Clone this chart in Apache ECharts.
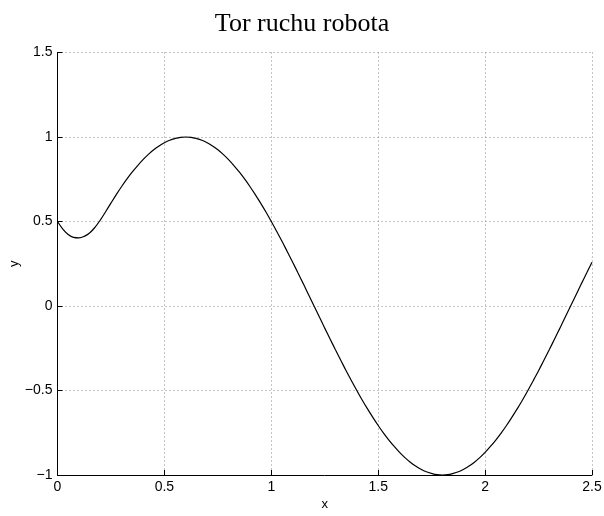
<!DOCTYPE html>
<html>
<head>
<meta charset="utf-8">
<script src="https://cdn.jsdelivr.net/npm/echarts@6/dist/echarts.min.js"></script>
<style>
  html, body { margin: 0; padding: 0; background: #fff; }
  #chart { width: 604px; height: 516px; }
</style>
</head>
<body>
<div id="chart"></div>
<script>
// Robot trajectory samples, x step 0.025
const xs = [];
for (let i = 0; i <= 100; i++) xs.push(+(i * 0.025).toFixed(3));
const ys = [
  0.5, 0.455, 0.423, 0.406, 0.403, 0.412, 0.432, 0.465, 0.508, 0.558,
  0.609, 0.659, 0.707, 0.752, 0.793, 0.831, 0.866, 0.897, 0.924, 0.947,
  0.966, 0.981, 0.991, 0.998, 1.0, 0.998, 0.991, 0.981, 0.966, 0.947,
  0.924, 0.897, 0.866, 0.831, 0.793, 0.752, 0.707, 0.659, 0.609, 0.556,
  0.5, 0.442, 0.383, 0.321, 0.259, 0.195, 0.131, 0.065, 0.0, -0.065,
  -0.131, -0.195, -0.259, -0.321, -0.383, -0.442, -0.5, -0.556, -0.609, -0.659,
  -0.707, -0.752, -0.793, -0.831, -0.866, -0.897, -0.924, -0.947, -0.966, -0.981,
  -0.991, -0.998, -1.0, -0.998, -0.991, -0.981, -0.966, -0.947, -0.924, -0.897,
  -0.866, -0.831, -0.793, -0.752, -0.707, -0.659, -0.609, -0.556, -0.5, -0.442,
  -0.383, -0.321, -0.259, -0.195, -0.131, -0.065, 0.0, 0.065, 0.131, 0.195,
  0.259
];

const titleText = 'Tor ruchu robota';
const xName = 'x';
const yName = 'y';

const points = xs.map((x, i) => [x, ys[i]]);
const fmt = v => String(v).replace('-', '\u2212');

const gridLine = { show: true, lineStyle: { color: '#8a8a8a', type: [1, 3], width: 1 } };
const labelStyle = { color: '#000', fontFamily: 'Liberation Sans', fontSize: 14, formatter: fmt };

const chart = echarts.init(document.getElementById('chart'), null, { renderer: 'canvas' });
chart.setOption({
  animation: false,
  backgroundColor: '#fff',
  title: {
    text: titleText,
    left: 'center',
    top: 6,
    textStyle: { fontFamily: 'Liberation Serif', fontWeight: 'normal', fontSize: 26, color: '#000' }
  },
  grid: { left: 57.5, right: 12, top: 52.5, bottom: 41, containLabel: false, outerBoundsMode: 'none' },
  xAxis: {
    type: 'value',
    min: 0, max: 2.5, interval: 0.5,
    name: xName,
    nameLocation: 'middle',
    nameGap: 23,
    nameMoveOverlap: false,
    nameTextStyle: { fontFamily: 'Liberation Sans', fontSize: 13, color: '#000' },
    axisLine: { show: true, onZero: false, lineStyle: { color: '#000', width: 1 } },
    axisTick: { show: true, inside: true, length: 5, lineStyle: { color: '#000' } },
    axisLabel: Object.assign({ margin: 5 }, labelStyle),
    splitLine: gridLine
  },
  yAxis: {
    type: 'value',
    min: -1, max: 1.5, interval: 0.5,
    name: yName,
    nameLocation: 'middle',
    nameGap: 37,
    nameRotate: 90,
    nameMoveOverlap: false,
    nameTextStyle: { fontFamily: 'Liberation Sans', fontSize: 13, color: '#000' },
    axisLine: { show: true, onZero: false, lineStyle: { color: '#000', width: 1 } },
    axisTick: { show: true, inside: true, length: 5, lineStyle: { color: '#000' } },
    axisLabel: Object.assign({ margin: 5 }, labelStyle),
    splitLine: gridLine
  },
  series: [{
    type: 'line',
    data: points,
    smooth: 0.4,
    symbol: 'none',
    lineStyle: { color: '#000', width: 1.2 }
  }]
});
</script>
</body>
</html>
